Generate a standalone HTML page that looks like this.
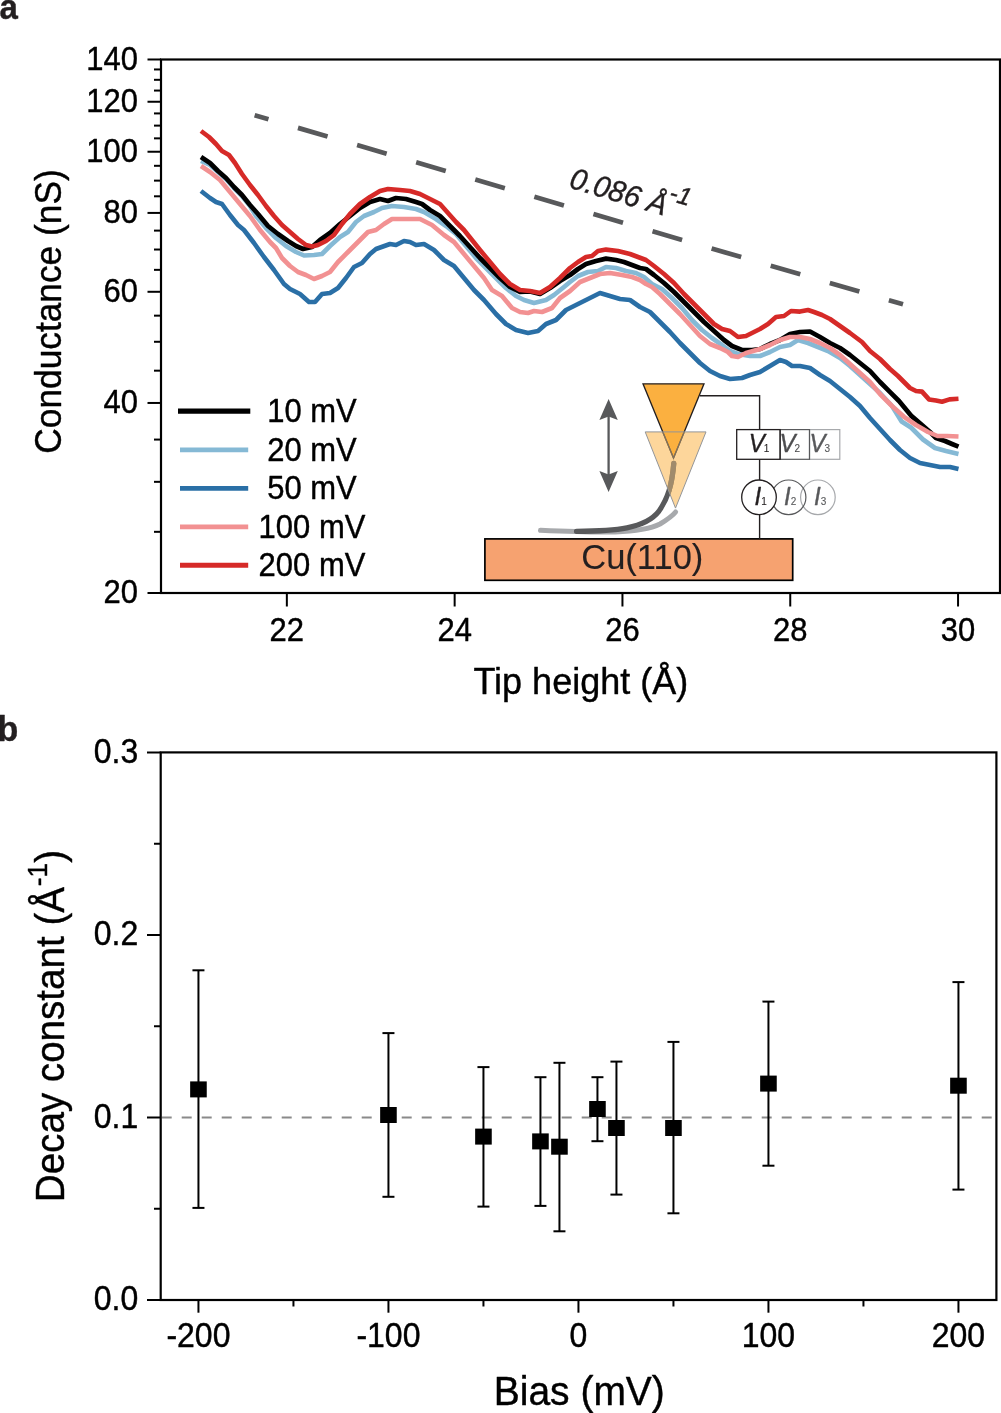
<!DOCTYPE html>
<html><head><meta charset="utf-8"><style>
html,body{margin:0;padding:0;background:#fff;width:1001px;height:1413px;overflow:hidden;position:relative}
text{stroke-width:0.4px;stroke-linejoin:round}
</style></head><body>
<svg width="1001" height="1413" viewBox="0 0 1001 1413" style="position:absolute;left:0;top:0;will-change:transform">
<rect x="0" y="0" width="1001" height="1413" fill="#fff"/>
<text stroke="#231f20" transform="translate(-0.5,18.5) scale(1,1.04)" font-family='"Liberation Sans", sans-serif' font-weight="bold" font-size="33" fill="#231f20">a</text>
<text stroke="#231f20" transform="translate(-2.6,741.4) scale(1,1.04)" font-family='"Liberation Sans", sans-serif' font-weight="bold" font-size="34" fill="#231f20">b</text>
<polyline points="201.0,191.0 210.0,198.0 216.0,202.0 222.0,204.0 230.0,215.0 238.0,225.0 244.0,230.0 254.0,243.0 264.0,257.0 274.0,270.0 284.0,284.0 290.0,289.0 300.0,294.0 309.0,302.0 315.0,302.0 322.0,294.0 330.0,293.0 338.0,288.0 346.0,278.0 354.0,267.0 362.0,263.0 370.0,254.0 376.0,249.0 390.0,244.0 396.0,245.0 404.0,241.0 410.0,242.0 416.0,245.0 424.0,244.0 434.0,250.0 444.0,260.0 454.0,266.0 464.0,278.0 474.0,290.0 484.0,300.0 496.0,314.0 506.0,324.0 516.0,330.0 528.0,333.0 538.0,331.0 546.0,324.0 556.0,320.0 566.0,310.0 580.0,303.0 590.0,298.0 600.0,293.0 610.0,296.0 620.0,299.0 630.0,300.0 640.0,307.0 650.0,312.0 660.0,322.0 670.0,332.0 680.0,343.0 690.0,353.0 700.0,363.0 710.0,371.0 720.0,376.0 730.0,379.0 742.0,378.0 750.0,375.0 760.0,372.0 770.0,366.0 780.0,360.0 786.0,362.0 792.0,366.0 800.0,366.0 810.0,368.0 820.0,375.0 830.0,381.0 840.0,389.0 850.0,397.0 860.0,406.0 870.0,418.0 880.0,429.0 890.0,440.0 900.0,450.0 910.0,458.0 920.0,463.0 930.0,465.0 940.0,467.0 950.0,467.0 958.5,469.0" fill="none" stroke="#2a6fa6" stroke-width="4.6" stroke-linejoin="round" stroke-linecap="butt"/>
<polyline points="201.0,161.0 210.0,165.0 218.0,172.0 226.0,179.0 234.0,188.0 242.0,196.0 250.0,206.0 256.0,216.0 266.0,228.0 276.0,238.0 286.0,246.0 296.0,252.0 304.0,255.5 314.0,255.0 322.0,254.0 330.0,246.0 340.0,237.0 348.0,232.0 356.0,222.0 364.0,216.0 374.0,212.0 382.0,208.0 392.0,206.0 404.0,207.0 416.0,209.0 424.0,212.0 436.0,219.0 446.0,226.0 456.0,234.0 466.0,246.0 476.0,258.0 486.0,268.0 496.0,278.0 506.0,288.0 516.0,296.0 524.0,300.0 534.0,303.0 546.0,300.0 554.0,295.0 564.0,287.0 570.0,282.0 578.0,276.0 588.0,272.0 598.0,271.0 606.0,267.0 616.0,268.0 626.0,271.0 636.0,273.0 644.0,277.0 652.0,284.0 662.0,289.0 672.0,298.0 682.0,308.0 692.0,320.0 702.0,330.0 712.0,338.0 722.0,345.0 730.0,351.0 738.0,354.0 750.0,356.0 760.0,356.0 770.0,352.0 780.0,347.0 790.0,345.0 798.0,340.0 808.0,343.0 818.0,347.0 828.0,351.0 840.0,358.0 850.0,366.0 860.0,375.0 870.0,384.0 880.0,393.0 892.0,406.0 901.6,421.5 911.0,427.5 923.0,439.5 935.0,448.0 946.0,451.0 958.5,454.0" fill="none" stroke="#85b9d5" stroke-width="4.6" stroke-linejoin="round" stroke-linecap="butt"/>
<polyline points="201.0,157.0 210.0,163.0 218.0,171.0 226.0,178.0 234.0,187.0 242.0,195.0 250.0,205.0 258.0,214.0 268.0,226.0 278.0,234.0 288.0,241.0 296.0,246.0 303.0,249.0 312.0,247.0 320.0,240.0 330.0,233.0 340.0,224.0 350.0,216.0 360.0,208.0 370.0,202.0 380.0,199.0 388.0,201.0 396.0,198.0 406.0,199.0 416.0,202.0 422.0,204.0 430.0,210.0 440.0,216.0 450.0,226.0 460.0,236.0 470.0,247.0 480.0,258.0 490.0,268.0 500.0,278.0 510.0,287.0 520.0,292.0 530.0,291.5 540.0,294.0 550.0,288.0 560.0,281.0 570.0,275.0 578.0,269.0 586.0,264.0 596.0,261.0 606.0,258.6 616.0,260.0 624.0,262.0 632.0,265.0 640.0,268.0 646.0,269.0 654.0,275.0 664.0,283.0 674.0,292.0 684.0,302.0 694.0,312.0 704.0,322.0 714.0,331.0 724.0,340.0 732.0,346.0 742.0,350.0 752.0,350.0 760.0,349.0 770.0,344.0 780.0,340.0 790.0,334.0 800.0,332.0 810.0,331.5 820.0,337.0 830.0,343.0 840.0,348.0 850.0,355.0 860.0,363.0 870.0,371.0 880.0,382.0 889.6,391.6 899.0,401.0 911.0,415.6 922.0,425.0 930.0,432.0 936.0,438.0 945.0,441.0 952.0,444.0 958.5,446.7" fill="none" stroke="#000000" stroke-width="4.7" stroke-linejoin="round" stroke-linecap="butt"/>
<polyline points="201.0,166.0 210.0,172.0 220.0,180.0 230.0,192.0 240.0,204.0 250.0,216.0 260.0,230.0 270.0,242.0 276.0,248.0 282.0,258.0 290.0,266.0 298.0,272.0 306.0,275.0 314.0,279.0 322.0,276.0 330.0,272.0 338.0,262.0 348.0,252.0 358.0,242.0 368.0,232.0 376.0,230.0 384.0,224.0 392.0,219.0 404.0,219.0 420.0,219.0 432.0,225.0 444.0,235.0 454.0,242.0 464.0,254.0 474.0,266.0 484.0,278.0 492.0,290.0 502.0,296.0 512.0,308.0 520.0,312.0 528.0,313.0 534.0,311.0 542.0,312.0 552.0,308.0 560.0,298.0 570.0,291.0 580.0,282.0 590.0,278.0 600.0,274.0 610.0,273.0 622.0,275.0 632.0,277.0 640.0,280.0 646.0,284.0 652.0,287.0 660.0,294.0 670.0,304.0 680.0,314.0 690.0,325.0 700.0,336.0 710.0,344.0 720.0,348.0 728.0,352.0 732.0,356.0 738.0,357.0 746.0,353.0 760.0,349.0 770.0,345.0 780.0,340.0 790.0,337.0 800.0,337.0 810.0,339.0 820.0,343.0 830.0,348.0 840.0,355.0 850.0,364.0 860.0,373.0 870.0,382.0 880.0,394.0 892.0,406.0 904.0,416.8 916.0,425.0 928.0,432.0 937.5,436.0 947.0,436.0 958.5,436.5" fill="none" stroke="#f29192" stroke-width="4.6" stroke-linejoin="round" stroke-linecap="butt"/>
<polyline points="201.0,131.0 209.0,137.0 216.0,144.0 222.0,151.0 229.0,155.0 235.0,163.0 242.0,174.0 250.0,185.0 258.0,195.0 266.0,206.0 274.0,216.0 282.0,225.0 290.0,232.0 298.0,239.0 306.0,245.0 312.0,246.5 318.0,245.0 326.0,241.0 334.0,235.0 342.0,224.0 350.0,214.0 360.0,204.0 370.0,197.0 380.0,191.0 388.0,189.0 400.0,190.0 410.0,191.0 420.0,194.0 430.0,199.0 440.0,204.0 448.0,213.0 456.0,222.0 464.0,230.0 472.0,240.0 480.0,250.0 490.0,262.0 500.0,274.0 510.0,284.0 520.0,290.0 530.0,291.0 540.0,293.0 550.0,287.0 560.0,278.0 570.0,268.0 578.0,262.0 586.0,257.0 592.0,256.0 598.0,251.0 606.0,249.6 618.0,251.0 630.0,254.0 638.0,257.0 646.0,260.0 654.0,266.0 664.0,274.0 674.0,283.0 684.0,294.0 694.0,304.0 704.0,314.0 714.0,324.0 722.0,329.0 730.0,331.0 738.0,337.0 746.0,336.0 754.0,332.0 760.0,329.0 768.0,324.0 776.0,317.0 784.0,316.0 791.0,311.0 800.0,311.6 808.0,310.0 814.0,312.0 822.0,315.0 830.0,319.0 840.0,326.0 850.0,333.0 862.0,342.0 870.0,351.0 880.0,359.0 890.0,369.0 898.0,376.0 910.0,388.0 916.0,391.0 922.0,391.6 929.0,399.4 936.0,400.6 942.0,401.8 949.5,399.4 958.5,398.8" fill="none" stroke="#d62a28" stroke-width="4.6" stroke-linejoin="round" stroke-linecap="butt"/>
<line x1="254.65" y1="115.24" x2="903" y2="304.30" stroke="#58595b" stroke-width="4.7" stroke-dasharray="30.8 30.75" stroke-dashoffset="16.4"/>
<text stroke="#231f20" transform="translate(568,187.3) rotate(16.6) scale(1,1.04)" font-family='"Liberation Sans", sans-serif' font-style="italic" font-size="29" fill="#231f20">0.086 Å<tspan dy="-15.8" dx="-0.5" font-size="24">-1</tspan></text>
<g stroke="#000" stroke-width="2" fill="none" stroke-linejoin="miter">
<rect x="161" y="59.5" width="839" height="533.5" stroke-width="2.2"/>
<line x1="147.5" y1="593.00" x2="161" y2="593.00"/>
<line x1="147.5" y1="402.96" x2="161" y2="402.96"/>
<line x1="147.5" y1="291.79" x2="161" y2="291.79"/>
<line x1="147.5" y1="212.92" x2="161" y2="212.92"/>
<line x1="147.5" y1="151.74" x2="161" y2="151.74"/>
<line x1="147.5" y1="101.75" x2="161" y2="101.75"/>
<line x1="147.5" y1="59.49" x2="161" y2="59.49"/>
<line x1="154" y1="531.82" x2="161" y2="531.82"/>
<line x1="154" y1="481.83" x2="161" y2="481.83"/>
<line x1="154" y1="439.57" x2="161" y2="439.57"/>
<line x1="154" y1="370.67" x2="161" y2="370.67"/>
<line x1="154" y1="341.78" x2="161" y2="341.78"/>
<line x1="154" y1="315.65" x2="161" y2="315.65"/>
<line x1="154" y1="269.85" x2="161" y2="269.85"/>
<line x1="154" y1="249.53" x2="161" y2="249.53"/>
<line x1="154" y1="230.61" x2="161" y2="230.61"/>
<line x1="154" y1="196.30" x2="161" y2="196.30"/>
<line x1="154" y1="180.63" x2="161" y2="180.63"/>
<line x1="154" y1="165.80" x2="161" y2="165.80"/>
<line x1="154" y1="138.36" x2="161" y2="138.36"/>
<line x1="154" y1="125.61" x2="161" y2="125.61"/>
<line x1="154" y1="113.42" x2="161" y2="113.42"/>
<line x1="154" y1="90.56" x2="161" y2="90.56"/>
<line x1="154" y1="79.81" x2="161" y2="79.81"/>
<line x1="154" y1="69.46" x2="161" y2="69.46"/>
<line x1="286.85" y1="593" x2="286.85" y2="606.5"/>
<line x1="454.65" y1="593" x2="454.65" y2="606.5"/>
<line x1="622.45" y1="593" x2="622.45" y2="606.5"/>
<line x1="790.25" y1="593" x2="790.25" y2="606.5"/>
<line x1="958.05" y1="593" x2="958.05" y2="606.5"/>
</g>
<text stroke="#000" transform="translate(137.9,603.10) scale(1,1.085)" text-anchor="end" font-family='"Liberation Sans", sans-serif' font-size="31" fill="#000">20</text>
<text stroke="#000" transform="translate(137.9,413.06) scale(1,1.085)" text-anchor="end" font-family='"Liberation Sans", sans-serif' font-size="31" fill="#000">40</text>
<text stroke="#000" transform="translate(137.9,301.89) scale(1,1.085)" text-anchor="end" font-family='"Liberation Sans", sans-serif' font-size="31" fill="#000">60</text>
<text stroke="#000" transform="translate(137.9,223.02) scale(1,1.085)" text-anchor="end" font-family='"Liberation Sans", sans-serif' font-size="31" fill="#000">80</text>
<text stroke="#000" transform="translate(137.9,161.84) scale(1,1.085)" text-anchor="end" font-family='"Liberation Sans", sans-serif' font-size="31" fill="#000">100</text>
<text stroke="#000" transform="translate(137.9,111.85) scale(1,1.085)" text-anchor="end" font-family='"Liberation Sans", sans-serif' font-size="31" fill="#000">120</text>
<text stroke="#000" transform="translate(137.9,69.59) scale(1,1.085)" text-anchor="end" font-family='"Liberation Sans", sans-serif' font-size="31" fill="#000">140</text>
<text stroke="#000" transform="translate(286.85,640.6) scale(1,1.085)" text-anchor="middle" font-family='"Liberation Sans", sans-serif' font-size="31" fill="#000">22</text>
<text stroke="#000" transform="translate(454.65,640.6) scale(1,1.085)" text-anchor="middle" font-family='"Liberation Sans", sans-serif' font-size="31" fill="#000">24</text>
<text stroke="#000" transform="translate(622.45,640.6) scale(1,1.085)" text-anchor="middle" font-family='"Liberation Sans", sans-serif' font-size="31" fill="#000">26</text>
<text stroke="#000" transform="translate(790.25,640.6) scale(1,1.085)" text-anchor="middle" font-family='"Liberation Sans", sans-serif' font-size="31" fill="#000">28</text>
<text stroke="#000" transform="translate(958.05,640.6) scale(1,1.085)" text-anchor="middle" font-family='"Liberation Sans", sans-serif' font-size="31" fill="#000">30</text>
<text stroke="#000" transform="translate(61,311.5) rotate(-90) scale(1,1.04)" text-anchor="middle" font-family='"Liberation Sans", sans-serif' font-size="35.3" fill="#000">Conductance (nS)</text>
<text stroke="#000" transform="translate(580.8,693.5) scale(1,1.04)" text-anchor="middle" font-family='"Liberation Sans", sans-serif' font-size="36" fill="#000">Tip height (Å)</text>
<line x1="178" y1="411.2" x2="250.3" y2="411.2" stroke="#000000" stroke-width="5.2"/>
<text stroke="#000" transform="translate(312,422.1) scale(1,1.085)" text-anchor="middle" font-family='"Liberation Sans", sans-serif' font-size="31" fill="#000">10 mV</text>
<line x1="180" y1="449.9" x2="248.2" y2="449.9" stroke="#85b9d5" stroke-width="4.9"/>
<text stroke="#000" transform="translate(312,460.8) scale(1,1.085)" text-anchor="middle" font-family='"Liberation Sans", sans-serif' font-size="31" fill="#000">20 mV</text>
<line x1="180" y1="488.4" x2="248.2" y2="488.4" stroke="#2a6fa6" stroke-width="4.9"/>
<text stroke="#000" transform="translate(312,499.3) scale(1,1.085)" text-anchor="middle" font-family='"Liberation Sans", sans-serif' font-size="31" fill="#000">50 mV</text>
<line x1="180" y1="526.9" x2="248.2" y2="526.9" stroke="#f29192" stroke-width="4.9"/>
<text stroke="#000" transform="translate(312,537.8) scale(1,1.085)" text-anchor="middle" font-family='"Liberation Sans", sans-serif' font-size="31" fill="#000">100 mV</text>
<line x1="180" y1="565.3" x2="248.2" y2="565.3" stroke="#d62a28" stroke-width="4.9"/>
<text stroke="#000" transform="translate(312,576.2) scale(1,1.085)" text-anchor="middle" font-family='"Liberation Sans", sans-serif' font-size="31" fill="#000">200 mV</text>
<rect x="484.9" y="538.9" width="307.8" height="41.4" fill="#f6a270" stroke="#000" stroke-width="1.7"/>
<text stroke="#231f20" transform="translate(642.3,568.6) scale(1,1.04)" text-anchor="middle" font-family='"Liberation Sans", sans-serif' font-size="34.5" fill="#231f20" style="stroke-width:0.1px">Cu(110)</text>
<polyline points="700,395.8 759.6,395.8 759.6,429.6" fill="none" stroke="#231f20" stroke-width="1.4"/>
<line x1="759.6" y1="459.3" x2="759.6" y2="480" stroke="#231f20" stroke-width="1.4"/>
<line x1="759.6" y1="514.8" x2="759.6" y2="539" stroke="#231f20" stroke-width="1.4"/>
<polygon points="643,383.8 704,383.8 673.5,458.1" fill="#fbb040" stroke="#231f20" stroke-width="1.3" stroke-linejoin="miter"/>
<path d="M540.5,530.3 C600,533 640,534 660,524 C670,518 674,514 675.6,512" fill="none" stroke="#a7a9ac" stroke-width="5" stroke-linecap="round"/>
<path d="M576.5,531.3 C615,531 645,529 658.8,511.4 C668,498 672,485 673.8,463.3" fill="none" stroke="#58595b" stroke-width="5.2" stroke-linecap="round"/>
<polygon points="645.2,431.9 706,431.9 675.5,508.1" fill="#fbb040" fill-opacity="0.52" stroke="none"/>
<clipPath id="lt"><polygon points="645.2,431.9 706,431.9 675.5,508.1"/></clipPath>
<g clip-path="url(#lt)">
<path d="M576.5,531.3 C615,531 645,529 658.8,511.4 C668,498 672,485 673.8,463.3" fill="none" stroke="#a08b6c" stroke-width="5.2" stroke-linecap="round"/>
<polyline points="643,383.8 673.5,458.1 704,383.8" fill="none" stroke="#7f705c" stroke-width="1.3"/>
</g>
<polygon points="645.2,431.9 706,431.9 675.5,508.1" fill="none" stroke="#939598" stroke-width="1"/>
<line x1="608.6" y1="415" x2="608.6" y2="476" stroke="#58595b" stroke-width="2.3"/>
<polygon points="608.6,399 617.8,420 608.6,416.5 599.4,420" fill="#58595b"/>
<polygon points="608.6,492 617.8,471 608.6,474.5 599.4,471" fill="#58595b"/>
<rect x="809.5" y="429.6" width="30.3" height="29.7" fill="none" stroke="#a7a9ac" stroke-width="1.2"/>
<rect x="780.1" y="429.6" width="29.4" height="29.7" fill="none" stroke="#58595b" stroke-width="1.2"/>
<rect x="736.7" y="429.6" width="43.4" height="29.7" fill="none" stroke="#231f20" stroke-width="1.3"/>
<text stroke="#231f20" transform="translate(748.7,451.6) scale(1,1.04)" font-family='"Liberation Sans", sans-serif' font-style="italic" font-size="24" fill="#231f20">V<tspan font-style="normal" font-size="10" dx="-1" style="stroke-width:0.1px">1</tspan></text>
<text stroke="#4d4d4f" transform="translate(779.5,451.6) scale(1,1.04)" font-family='"Liberation Sans", sans-serif' font-style="italic" font-size="24" fill="#4d4d4f">V<tspan font-style="normal" font-size="10" dx="-1" style="stroke-width:0.1px">2</tspan></text>
<text stroke="#58595b" transform="translate(809.4,451.6) scale(1,1.04)" font-family='"Liberation Sans", sans-serif' font-style="italic" font-size="24" fill="#58595b">V<tspan font-style="normal" font-size="10" dx="-1" style="stroke-width:0.1px">3</tspan></text>
<circle cx="817.9" cy="497.3" r="17.3" fill="none" stroke="#a7a9ac" stroke-width="1.2"/>
<circle cx="788.6" cy="497.3" r="17.3" fill="none" stroke="#58595b" stroke-width="1.2"/>
<circle cx="759" cy="497.3" r="17.3" fill="#fff" stroke="#231f20" stroke-width="1.3"/>
<text stroke="#231f20" transform="translate(754.5,505) scale(1,1.04)" font-family='"Liberation Sans", sans-serif' font-style="italic" font-size="24" fill="#231f20">I<tspan font-style="normal" font-size="10" dx="0" style="stroke-width:0.1px">1</tspan></text>
<text stroke="#58595b" transform="translate(784,505) scale(1,1.04)" font-family='"Liberation Sans", sans-serif' font-style="italic" font-size="24" fill="#58595b">I<tspan font-style="normal" font-size="10" dx="0" style="stroke-width:0.1px">2</tspan></text>
<text stroke="#58595b" transform="translate(814,505) scale(1,1.04)" font-family='"Liberation Sans", sans-serif' font-style="italic" font-size="24" fill="#58595b">I<tspan font-style="normal" font-size="10" dx="0" style="stroke-width:0.1px">3</tspan></text>
<line x1="160.7" y1="1117.50" x2="993.4" y2="1117.50" stroke="#8a8a8a" stroke-width="2" stroke-dasharray="10 10" stroke-dashoffset="-1"/>
<g stroke="#000" stroke-width="2" fill="none">
<line x1="198.45" y1="970.3" x2="198.45" y2="1207.9"/>
<line x1="192.45" y1="970.3" x2="204.45" y2="970.3"/>
<line x1="192.45" y1="1207.9" x2="204.45" y2="1207.9"/>
<line x1="388.45" y1="1033.1" x2="388.45" y2="1196.8"/>
<line x1="382.45" y1="1033.1" x2="394.45" y2="1033.1"/>
<line x1="382.45" y1="1196.8" x2="394.45" y2="1196.8"/>
<line x1="483.45" y1="1067.1" x2="483.45" y2="1206.6"/>
<line x1="477.45" y1="1067.1" x2="489.45" y2="1067.1"/>
<line x1="477.45" y1="1206.6" x2="489.45" y2="1206.6"/>
<line x1="540.45" y1="1077.2" x2="540.45" y2="1205.9"/>
<line x1="534.45" y1="1077.2" x2="546.45" y2="1077.2"/>
<line x1="534.45" y1="1205.9" x2="546.45" y2="1205.9"/>
<line x1="559.45" y1="1062.8" x2="559.45" y2="1231.3"/>
<line x1="553.45" y1="1062.8" x2="565.45" y2="1062.8"/>
<line x1="553.45" y1="1231.3" x2="565.45" y2="1231.3"/>
<line x1="597.45" y1="1077.2" x2="597.45" y2="1141.2"/>
<line x1="591.45" y1="1077.2" x2="603.45" y2="1077.2"/>
<line x1="591.45" y1="1141.2" x2="603.45" y2="1141.2"/>
<line x1="616.45" y1="1061.6" x2="616.45" y2="1194.6"/>
<line x1="610.45" y1="1061.6" x2="622.45" y2="1061.6"/>
<line x1="610.45" y1="1194.6" x2="622.45" y2="1194.6"/>
<line x1="673.45" y1="1041.9" x2="673.45" y2="1213.3"/>
<line x1="667.45" y1="1041.9" x2="679.45" y2="1041.9"/>
<line x1="667.45" y1="1213.3" x2="679.45" y2="1213.3"/>
<line x1="768.45" y1="1001.6" x2="768.45" y2="1165.7"/>
<line x1="762.45" y1="1001.6" x2="774.45" y2="1001.6"/>
<line x1="762.45" y1="1165.7" x2="774.45" y2="1165.7"/>
<line x1="958.45" y1="982.1" x2="958.45" y2="1189.6"/>
<line x1="952.45" y1="982.1" x2="964.45" y2="982.1"/>
<line x1="952.45" y1="1189.6" x2="964.45" y2="1189.6"/>
</g>
<rect x="190.15" y="1081.40" width="16.6" height="16" fill="#000"/>
<rect x="380.15" y="1107.00" width="16.6" height="16" fill="#000"/>
<rect x="475.15" y="1128.60" width="16.6" height="16" fill="#000"/>
<rect x="532.15" y="1133.40" width="16.6" height="16" fill="#000"/>
<rect x="551.15" y="1138.70" width="16.6" height="16" fill="#000"/>
<rect x="589.15" y="1101.00" width="16.6" height="16" fill="#000"/>
<rect x="608.15" y="1120.00" width="16.6" height="16" fill="#000"/>
<rect x="665.15" y="1120.00" width="16.6" height="16" fill="#000"/>
<rect x="760.15" y="1075.60" width="16.6" height="16" fill="#000"/>
<rect x="950.15" y="1077.70" width="16.6" height="16" fill="#000"/>
<g stroke="#000" stroke-width="2" fill="none" stroke-linejoin="miter">
<rect x="160.7" y="752.4" width="835.7" height="547.6" stroke-width="2.2"/>
<line x1="147" y1="1300.00" x2="160.7" y2="1300.00"/>
<line x1="147" y1="1117.50" x2="160.7" y2="1117.50"/>
<line x1="147" y1="935.00" x2="160.7" y2="935.00"/>
<line x1="147" y1="752.50" x2="160.7" y2="752.50"/>
<line x1="154" y1="1208.75" x2="160.7" y2="1208.75"/>
<line x1="154" y1="1026.25" x2="160.7" y2="1026.25"/>
<line x1="154" y1="843.75" x2="160.7" y2="843.75"/>
<line x1="198.45" y1="1300" x2="198.45" y2="1312.7"/>
<line x1="388.45" y1="1300" x2="388.45" y2="1312.7"/>
<line x1="578.45" y1="1300" x2="578.45" y2="1312.7"/>
<line x1="768.45" y1="1300" x2="768.45" y2="1312.7"/>
<line x1="958.45" y1="1300" x2="958.45" y2="1312.7"/>
<line x1="293.45" y1="1300" x2="293.45" y2="1306.5"/>
<line x1="483.45" y1="1300" x2="483.45" y2="1306.5"/>
<line x1="673.45" y1="1300" x2="673.45" y2="1306.5"/>
<line x1="863.45" y1="1300" x2="863.45" y2="1306.5"/>
</g>
<text stroke="#000" transform="translate(138.3,1310.40) scale(1,1.085)" text-anchor="end" font-family='"Liberation Sans", sans-serif' font-size="32" fill="#000">0.0</text>
<text stroke="#000" transform="translate(138.3,1127.90) scale(1,1.085)" text-anchor="end" font-family='"Liberation Sans", sans-serif' font-size="32" fill="#000">0.1</text>
<text stroke="#000" transform="translate(138.3,945.40) scale(1,1.085)" text-anchor="end" font-family='"Liberation Sans", sans-serif' font-size="32" fill="#000">0.2</text>
<text stroke="#000" transform="translate(138.3,762.90) scale(1,1.085)" text-anchor="end" font-family='"Liberation Sans", sans-serif' font-size="32" fill="#000">0.3</text>
<text stroke="#000" transform="translate(198.45,1347) scale(1,1.085)" text-anchor="middle" font-family='"Liberation Sans", sans-serif' font-size="32" fill="#000">-200</text>
<text stroke="#000" transform="translate(388.45,1347) scale(1,1.085)" text-anchor="middle" font-family='"Liberation Sans", sans-serif' font-size="32" fill="#000">-100</text>
<text stroke="#000" transform="translate(578.45,1347) scale(1,1.085)" text-anchor="middle" font-family='"Liberation Sans", sans-serif' font-size="32" fill="#000">0</text>
<text stroke="#000" transform="translate(768.45,1347) scale(1,1.085)" text-anchor="middle" font-family='"Liberation Sans", sans-serif' font-size="32" fill="#000">100</text>
<text stroke="#000" transform="translate(958.45,1347) scale(1,1.085)" text-anchor="middle" font-family='"Liberation Sans", sans-serif' font-size="32" fill="#000">200</text>
<text stroke="#000" transform="translate(64,1026.1) rotate(-90) scale(1,1.04)" text-anchor="middle" font-family='"Liberation Sans", sans-serif' font-size="38.6" fill="#000">Decay constant (Å<tspan dy="-16" dx="0.8" font-size="26">-1</tspan><tspan dy="16" dx="0.3">)</tspan></text>
<text stroke="#000" transform="translate(579.3,1404.9) scale(1,1.04)" text-anchor="middle" font-family='"Liberation Sans", sans-serif' font-size="39" fill="#000">Bias (mV)</text>
</svg>
</body></html>
